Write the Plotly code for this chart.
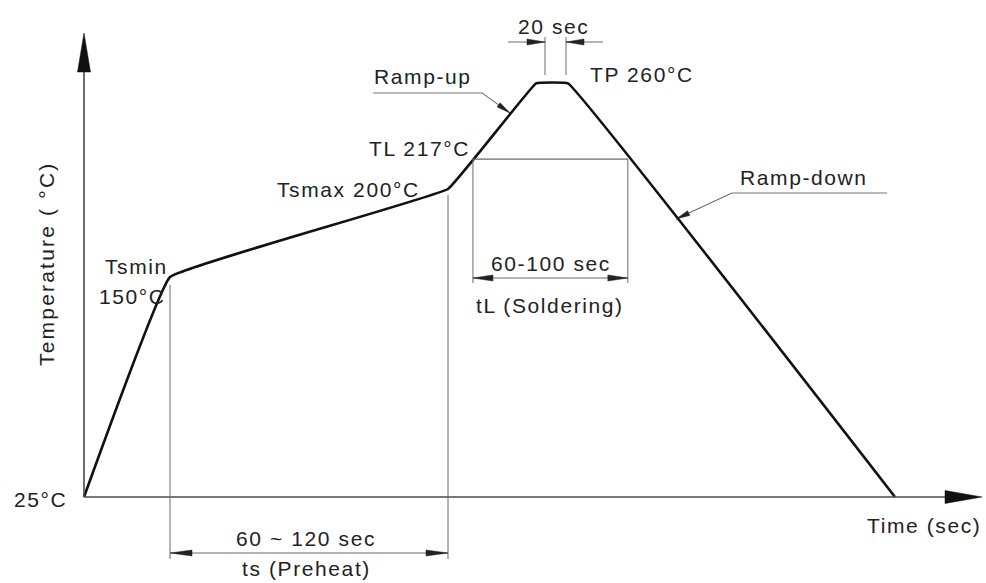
import math
import plotly.graph_objects as go

# ---------------- data (schematic reflow profile) ----------------
profile_time = [0, 43, 182, 226, 242, 405.5]      # s (schematic)
profile_temp = [25, 150, 200, 260, 260, 25]       # °C
T_AMB, T_SMIN, T_SMAX, T_L, T_P = 25, 150, 200, 217, 260
t_smin, t_smax = 43, 182
peak_window = [230.5, 241]                        # 20 sec at peak

label_tp = "TP 260°C"
label_tl = "TL 217°C"
label_tsmax = "Tsmax 200°C"
label_tsmin = ["Tsmin", "150°C"]
label_amb = "25°C"
label_peak = "20 sec"
label_liq = ["60-100 sec", "tL (Soldering)"]
label_pre = ["60 ~ 120 sec", "ts (Preheat)"]

# ---------------- layout mapping ----------------
W, H = 986, 583
X_RANGE = [-42, 451]
Y_RANGE = [25 - (H - 497) / 1.76, 25 + 497 / 1.76]


def xp(px):
    return X_RANGE[0] + px * (X_RANGE[1] - X_RANGE[0]) / W


def yp(py):
    return Y_RANGE[1] - py * (Y_RANGE[1] - Y_RANGE[0]) / H


def to_px(t):
    return (t - X_RANGE[0]) * W / (X_RANGE[1] - X_RANGE[0])


def to_py(T):
    return (Y_RANGE[1] - T) * H / (Y_RANGE[1] - Y_RANGE[0])


def cross(level, i0, i1):
    t0, t1 = profile_time[i0], profile_time[i1]
    a, b = profile_temp[i0], profile_temp[i1]
    return t0 + (level - a) / (b - a) * (t1 - t0)


t_L_up = cross(T_L, 2, 3)
t_L_down = cross(T_L, 4, 5)

AX = "#4a4a4a"
DIM = "#6a6a6a"
TXT = "#222222"
FONT = "Liberation Sans, Arial, sans-serif"

shapes = []


def line_px(x0, y0, x1, y1, color=DIM, width=1):
    shapes.append(dict(type="line", xref="x", yref="y",
                       x0=xp(x0), y0=yp(y0), x1=xp(x1), y1=yp(y1),
                       line=dict(color=color, width=width)))


def line_data(t0, T0, t1, T1, color=DIM, width=1):
    shapes.append(dict(type="line", xref="x", yref="y",
                       x0=t0, y0=T0, x1=t1, y1=T1,
                       line=dict(color=color, width=width)))


def arrow_head(tx, ty, dx, dy, length, half, color="#111"):
    n = math.hypot(dx, dy)
    ux, uy = dx / n, dy / n
    px_, py_ = -uy, ux
    bx, by = tx - ux * length, ty - uy * length
    pts = [(tx, ty), (bx + px_ * half, by + py_ * half), (bx - px_ * half, by - py_ * half)]
    path = "M " + " L ".join(f"{xp(a):.4f},{yp(b):.4f}" for a, b in pts) + " Z"
    shapes.append(dict(type="path", xref="x", yref="y", path=path,
                       fillcolor=color, line=dict(color=color, width=0.5)))


# axes
x0px, y0px = to_px(0), to_py(T_AMB)
line_px(x0px, y0px, x0px, 70, AX, 1.6)
arrow_head(x0px, 33, 0, -1, 39, 6.5, "#111")
line_px(x0px, y0px, 947, y0px, AX, 1.6)
arrow_head(982, y0px, 1, 0, 37, 6.5, "#111")

# preheat dimension
ys_min = to_py(T_SMIN)
ys_max = to_py(T_SMAX)
xs_min, xs_max = to_px(t_smin), to_px(t_smax)
line_px(xs_min, ys_min + 8, xs_min, 559)
line_px(xs_max, ys_max + 6, xs_max, 559)
line_px(xs_min, 553, xs_max, 553)
arrow_head(xs_min, 553, -1, 0, 22, 3, "#222")
arrow_head(xs_max, 553, 1, 0, 22, 3, "#222")

# liquidus dimension
line_data(t_L_up, T_L, t_L_down, T_L, DIM, 1.2)
xl_up, xl_dn = to_px(t_L_up), to_px(t_L_down)
yl = to_py(T_L)
line_px(xl_up, yl, xl_up, 283)
line_px(xl_dn, yl, xl_dn, 283)
line_px(xl_up, 278, xl_dn, 278)
arrow_head(xl_up, 278, -1, 0, 20, 3, "#222")
arrow_head(xl_dn, 278, 1, 0, 20, 3, "#222")

# peak 20 sec
xa, xb = to_px(peak_window[0]), to_px(peak_window[1])
line_px(xa, 37, xa, 75)
line_px(xb, 37, xb, 75)
line_px(508, 42, xa, 42)
line_px(xb, 42, 603, 42)
arrow_head(xa, 42, 1, 0, 18, 3, "#222")
arrow_head(xb, 42, -1, 0, 18, 3, "#222")

# leaders
line_px(373, 93, 482, 93, "#777", 1.2)
line_px(482, 93, 510, 113, "#555", 1)
arrow_head(510, 113, 28, 20, 14, 2.6, "#222")
line_px(732, 193, 887, 193, "#777", 1.2)
line_px(732, 193, 676, 219, "#555", 1)
arrow_head(676, 219, -56, 26, 14, 2.6, "#222")

fig = go.Figure()
fig.add_trace(go.Scatter(
    x=profile_time, y=profile_temp, mode="lines",
    line=dict(color="#111111", width=2.6, shape="spline", smoothing=0.18),
    hoverinfo="skip", showlegend=False))

annotations = []


def txt(s, px, py, xanchor="left", angle=0, ls=1.6):
    annotations.append(dict(
        text=f'<span style="letter-spacing:{ls}px">{s}</span>',
        x=px / W, y=1 - py / H, xref="paper", yref="paper",
        xanchor=xanchor, yanchor="middle", showarrow=False, textangle=angle,
        font=dict(family=FONT, size=21, color=TXT)))


txt(label_peak, 553, 26, "center")
txt(label_tp, 588, 74)
txt("Ramp-up", 372, 76)
txt(label_tl, 367, 148)
txt(label_tsmax, 422, 189, "right")
txt("Ramp-down", 738, 177)
txt(label_tsmin[0], 103, 266)
txt(label_tsmin[1], 97, 296)
txt("Temperature ( °C)", 46, 264, "center", -90, 2.2)
txt(label_amb, 12, 499)
txt(label_liq[0], 551, 263, "center")
txt(label_liq[1], 550, 305, "center")
txt(label_pre[0], 306, 538, "center")
txt(label_pre[1], 306, 568, "center")
txt("Time (sec)", 983, 525, "right")

fig.update_layout(
    width=W, height=H, autosize=False,
    margin=dict(l=0, r=0, t=0, b=0),
    paper_bgcolor="white", plot_bgcolor="white",
    xaxis=dict(range=X_RANGE, visible=False, fixedrange=True),
    yaxis=dict(range=Y_RANGE, visible=False, fixedrange=True),
    shapes=shapes, annotations=annotations, showlegend=False)

fig.write_html(
    "out.html",
    config={"displayModeBar": False},
    post_script="document.body.style.margin='0';document.body.style.overflow='hidden';",
)
